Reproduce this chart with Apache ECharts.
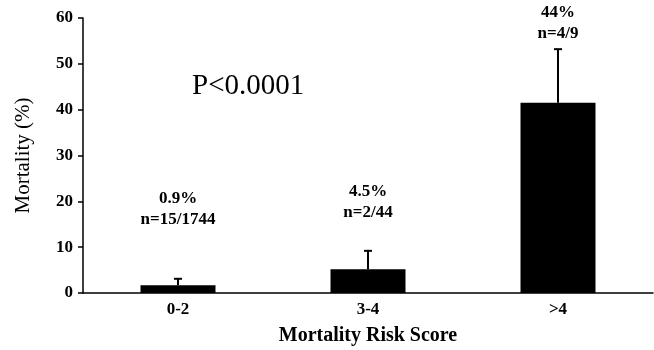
<!DOCTYPE html>
<html><head><meta charset="utf-8">
<script src="https://cdn.jsdelivr.net/npm/echarts@6/dist/echarts.min.js"></script>
<style>html,body{margin:0;padding:0;background:#fff}#c{width:654px;height:350px}</style>
</head><body><div id="c"></div>
<script>
var categories = ['0-2', '3-4', '>4'];
var mortality = [1.7, 5.2, 41.5];
var errorTop = [3.1, 9.2, 53.2];
var pctLabels = ['0.9%', '4.5%', '44%'];
var nLabels = ['n=15/1744', 'n=2/44', 'n=4/9'];
var yTicks = [0, 10, 20, 30, 40, 50, 60];

var serif = '"Liberation Serif", "DejaVu Serif", serif';
var chart = echarts.init(document.getElementById('c'), null, {renderer: 'canvas'});
var labelTopPx = [199, 192, 13];

chart.setOption({
  animation: false,
  backgroundColor: '#fff',
  grid: {left: 83, right: 1, top: 18, bottom: 57, outerBoundsMode: 'none', containLabel: false},
  xAxis: {
    type: 'category', data: categories,
    axisLine: {lineStyle: {color: '#000', width: 1.5}},
    axisTick: {show: false},
    axisLabel: {color: '#000', fontFamily: serif, fontWeight: 'bold', fontSize: 17, margin: 8},
    name: 'Mortality Risk Score', nameLocation: 'middle', nameGap: 33,
    nameTextStyle: {color: '#000', fontFamily: serif, fontWeight: 'bold', fontSize: 20}
  },
  yAxis: {
    type: 'value', min: yTicks[0], max: yTicks[yTicks.length - 1], interval: yTicks[1] - yTicks[0],
    splitLine: {show: false},
    axisLine: {show: true, lineStyle: {color: '#000', width: 1.5}},
    axisTick: {show: true, length: 5, lineStyle: {color: '#000', width: 1.5}},
    axisLabel: {color: '#000', fontFamily: serif, fontWeight: 'bold', fontSize: 17, margin: 10},
    name: 'Mortality (%)', nameLocation: 'middle', nameGap: 49,
    nameTextStyle: {color: '#000', fontFamily: serif, fontSize: 21}
  },
  graphic: [{
    type: 'text', left: 192, top: 72,
    style: {text: 'P<0.0001', font: '29px ' + serif, fill: '#000'}
  }],
  series: [{
    type: 'bar', data: mortality, barWidth: 75,
    itemStyle: {color: '#000'}, z: 2
  }, {
    type: 'custom', z: 3,
    data: categories.map(function (c, i) { return [i, mortality[i], errorTop[i]]; }),
    renderItem: function (params, api) {
      var base = api.coord([api.value(0), api.value(1)]);
      var top = api.coord([api.value(0), api.value(2)]);
      var x = base[0];
      return {
        type: 'group', children: [
          {type: 'line', shape: {x1: x, y1: base[1], x2: x, y2: top[1]}, style: {stroke: '#000', lineWidth: 2}},
          {type: 'line', shape: {x1: x - 4, y1: top[1], x2: x + 4, y2: top[1]}, style: {stroke: '#000', lineWidth: 2}}
        ]
      };
    }
  }, {
    type: 'custom', z: 4,
    data: categories.map(function (c, i) { return [i, 0]; }),
    renderItem: function (params, api) {
      var i = params.dataIndex;
      var x = api.coord([api.value(0), 0])[0];
      var y = labelTopPx[i];
      return {
        type: 'group', children: [
          {type: 'text', style: {x: x, y: y, text: pctLabels[i], textAlign: 'center', textVerticalAlign: 'middle',
            font: 'bold 17px ' + serif, fill: '#000'}},
          {type: 'text', style: {x: x, y: y + 21, text: nLabels[i], textAlign: 'center', textVerticalAlign: 'middle',
            font: 'bold 17px ' + serif, fill: '#000'}}
        ]
      };
    }
  }]
});
</script>
</body></html>
